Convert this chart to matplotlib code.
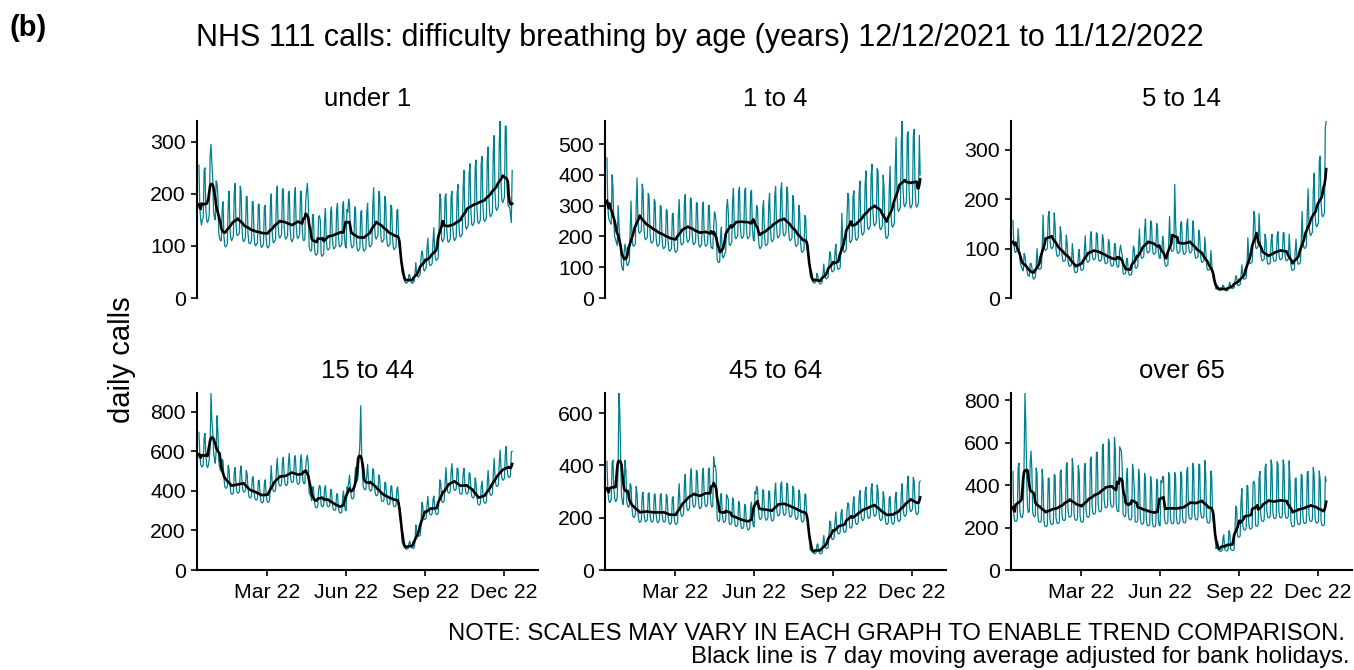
import pandas as pd
import matplotlib.pyplot as plt
import matplotlib.dates as mdates
from matplotlib.ticker import MultipleLocator

plt.rcParams['font.family'] = ['Liberation Sans', 'DejaVu Sans']

start_date = "2021-12-12"
panel_titles = ["under 1", "1 to 4", "5 to 14", "15 to 44", "45 to 64", "over 65"]
y_steps = [100, 100, 100, 200, 200, 200]
month_ticks = ["2022-03-01", "2022-06-01", "2022-09-01", "2022-12-01"]

# daily calls, one row per week (Sun..Sat), last value = Sun 11/12/2022
under_1 = [
    255, 175, 150, 140, 150, 155, 245,
    250, 170, 150, 145, 150, 160, 270,
    295, 260, 230, 165, 155, 150, 225,
    220, 200, 125, 115, 110, 110, 170,
    185, 120, 100, 98, 100, 105, 178,
    205, 135, 115, 110, 115, 118, 200,
    220, 145, 122, 120, 122, 125, 215,
    205, 135, 112, 108, 112, 115, 195,
    195, 125, 106, 104, 106, 110, 185,
    185, 120, 102, 100, 104, 105, 180,
    180, 120, 100, 97, 100, 103, 175,
    178, 118, 100, 96, 99, 102, 175,
    200, 130, 108, 106, 110, 112, 193,
    215, 140, 118, 115, 118, 122, 208,
    210, 138, 116, 113, 116, 120, 202,
    205, 132, 112, 108, 112, 115, 196,
    212, 140, 118, 114, 118, 122, 205,
    205, 135, 112, 110, 112, 185, 205,
    220, 190, 100, 92, 90, 92, 160,
    160, 102, 85, 82, 84, 86, 155,
    158, 150, 85, 80, 82, 85, 150,
    172, 112, 94, 92, 94, 97, 165,
    175, 115, 97, 94, 97, 99, 170,
    182, 120, 100, 98, 101, 103, 178,
    185, 118, 100, 96, 170, 165, 190,
    180, 118, 100, 96, 99, 102, 175,
    170, 110, 93, 90, 93, 96, 165,
    168, 110, 92, 90, 93, 95, 163,
    182, 120, 100, 98, 101, 104, 177,
    212, 140, 117, 113, 117, 120, 205,
    200, 132, 110, 107, 110, 113, 195,
    185, 120, 102, 99, 101, 104, 178,
    175, 114, 96, 93, 96, 98, 168,
    170, 112, 95, 90, 75, 50, 45,
    45, 32, 30, 28, 30, 32, 45,
    44, 32, 30, 28, 30, 32, 45,
    68, 48, 42, 40, 43, 45, 75,
    90, 85, 55, 52, 55, 58, 95,
    115, 76, 64, 62, 64, 66, 110,
    135, 88, 75, 72, 75, 77, 130,
    200, 190, 112, 108, 112, 115, 195,
    200, 132, 110, 107, 110, 113, 195,
    205, 135, 114, 110, 114, 117, 200,
    218, 142, 120, 117, 120, 123, 210,
    245, 162, 136, 132, 136, 140, 240,
    258, 170, 142, 139, 142, 146, 250,
    265, 174, 146, 143, 146, 150, 258,
    272, 178, 150, 147, 150, 154, 265,
    290, 190, 160, 156, 160, 164, 280,
    312, 204, 172, 168, 172, 176, 300,
    340, 223, 188, 183, 188, 193, 330,
    330, 214, 180, 175, 175, 160, 145,
    245,
]

one_to_four = [
    455, 300, 260, 250, 245, 240, 400,
    360, 245, 200, 190, 180, 170, 300,
    240, 190, 160, 105, 95, 90, 150,
    175, 160, 110, 105, 110, 120, 220,
    315, 205, 172, 168, 172, 176, 300,
    390, 255, 215, 210, 215, 220, 370,
    350, 230, 194, 189, 194, 198, 340,
    330, 217, 182, 178, 182, 187, 320,
    312, 204, 172, 168, 172, 176, 300,
    297, 195, 164, 160, 164, 168, 287,
    283, 185, 156, 152, 156, 160, 273,
    275, 180, 152, 148, 152, 156, 268,
    320, 209, 176, 172, 176, 180, 308,
    336, 220, 186, 181, 186, 190, 325,
    322, 211, 178, 173, 178, 182, 310,
    307, 201, 170, 165, 170, 174, 297,
    312, 204, 172, 168, 172, 176, 301,
    300, 198, 166, 162, 160, 230, 280,
    270, 240, 125, 118, 115, 118, 200,
    230, 140, 130, 135, 145, 150, 290,
    320, 280, 175, 170, 175, 180, 315,
    357, 234, 197, 192, 197, 202, 345,
    360, 236, 198, 193, 198, 203, 347,
    357, 234, 197, 192, 197, 202, 344,
    350, 228, 192, 186, 250, 240, 300,
    290, 195, 165, 160, 165, 170, 290,
    316, 207, 174, 170, 174, 179, 305,
    340, 223, 188, 183, 188, 193, 329,
    362, 238, 200, 195, 200, 205, 350,
    374, 245, 206, 201, 206, 212, 361,
    345, 226, 190, 186, 190, 195, 333,
    312, 204, 172, 168, 172, 176, 301,
    275, 180, 152, 148, 152, 156, 268,
    260, 175, 150, 145, 120, 75, 65,
    75, 55, 50, 48, 50, 55, 80,
    72, 52, 48, 45, 48, 52, 75,
    110, 75, 65, 62, 65, 68, 115,
    150, 140, 88, 85, 88, 90, 150,
    175, 114, 96, 93, 96, 98, 168,
    275, 180, 152, 148, 152, 156, 267,
    340, 320, 185, 180, 185, 190, 330,
    348, 228, 192, 187, 192, 197, 336,
    380, 249, 210, 204, 210, 215, 367,
    413, 271, 228, 222, 228, 234, 399,
    435, 285, 240, 234, 240, 246, 420,
    413, 271, 228, 222, 228, 234, 399,
    360, 236, 198, 193, 198, 203, 347,
    428, 280, 236, 230, 236, 242, 413,
    522, 342, 288, 281, 288, 295, 504,
    575, 361, 304, 296, 304, 312, 530,
    540, 355, 299, 292, 299, 307, 524,
    548, 359, 302, 295, 302, 310, 529,
    400,
]

five_to_14 = [
    157, 110, 95, 92, 95, 96, 140,
    115, 80, 68, 62, 58, 55, 90,
    85, 70, 60, 48, 45, 44, 70,
    70, 62, 42, 38, 40, 42, 66,
    100, 68, 59, 58, 59, 61, 99,
    168, 114, 98, 96, 98, 101, 165,
    175, 119, 102, 100, 102, 105, 172,
    147, 100, 86, 84, 86, 88, 144,
    129, 87, 75, 74, 75, 77, 127,
    112, 76, 66, 64, 66, 67, 110,
    90, 61, 52, 51, 52, 54, 88,
    98, 67, 57, 56, 57, 59, 96,
    126, 86, 74, 72, 74, 76, 123,
    134, 91, 79, 77, 79, 81, 132,
    130, 88, 76, 74, 76, 78, 128,
    120, 82, 71, 69, 71, 72, 118,
    112, 76, 66, 64, 66, 67, 110,
    109, 74, 64, 62, 64, 95, 107,
    95, 85, 50, 48, 49, 50, 80,
    80, 54, 47, 46, 47, 48, 78,
    105, 100, 62, 60, 62, 64, 105,
    140, 95, 82, 80, 82, 84, 137,
    160, 108, 93, 91, 93, 96, 156,
    154, 105, 90, 88, 90, 92, 151,
    140, 95, 82, 80, 100, 95, 125,
    112, 76, 66, 64, 66, 67, 110,
    165, 112, 96, 94, 96, 99, 230,
    157, 106, 92, 90, 92, 94, 153,
    154, 105, 90, 88, 90, 92, 151,
    160, 108, 93, 91, 93, 96, 156,
    140, 95, 82, 80, 82, 84, 137,
    126, 86, 74, 72, 74, 76, 123,
    98, 67, 57, 56, 57, 59, 96,
    70, 48, 40, 35, 25, 18, 20,
    24, 18, 16, 15, 16, 17, 26,
    23, 17, 15, 14, 15, 16, 25,
    32, 23, 20, 19, 20, 21, 33,
    45, 42, 26, 25, 26, 27, 44,
    67, 46, 39, 38, 39, 40, 66,
    122, 83, 71, 70, 71, 73, 119,
    175, 165, 102, 100, 102, 105, 171,
    132, 89, 77, 75, 77, 79, 129,
    119, 81, 70, 68, 70, 71, 116,
    129, 87, 75, 74, 75, 77, 126,
    134, 91, 79, 77, 79, 81, 132,
    132, 89, 77, 75, 77, 79, 129,
    98, 67, 57, 56, 57, 59, 96,
    119, 81, 70, 68, 70, 71, 116,
    175, 119, 102, 100, 102, 105, 171,
    221, 150, 130, 126, 130, 133, 216,
    252, 171, 148, 144, 148, 151, 276,
    287, 195, 168, 164, 168, 172, 345,
    358,
]

fifteen_to_44 = [
    696, 592, 534, 522, 522, 534, 667,
    690, 587, 529, 518, 530, 560, 620,
    895, 760, 700, 600, 560, 540, 600,
    780, 700, 560, 520, 505, 500, 560,
    552, 469, 423, 414, 414, 423, 529,
    510, 434, 391, 383, 383, 391, 489,
    518, 441, 397, 389, 389, 397, 497,
    526, 447, 403, 394, 394, 403, 504,
    486, 413, 373, 365, 365, 373, 466,
    472, 401, 362, 354, 354, 362, 452,
    454, 386, 348, 340, 340, 348, 435,
    456, 388, 350, 342, 342, 350, 437,
    528, 449, 405, 396, 396, 405, 506,
    566, 481, 434, 425, 425, 434, 543,
    570, 485, 437, 428, 428, 437, 546,
    590, 502, 453, 443, 443, 453, 566,
    578, 492, 443, 434, 434, 443, 554,
    582, 495, 446, 437, 437, 520, 560,
    580, 540, 390, 382, 370, 350, 420,
    420, 357, 322, 315, 315, 322, 403,
    428, 420, 328, 321, 321, 328, 411,
    426, 362, 327, 320, 320, 327, 408,
    402, 342, 308, 302, 302, 308, 385,
    384, 326, 294, 288, 288, 294, 368,
    400, 340, 306, 300, 420, 410, 440,
    480, 408, 368, 360, 360, 368, 460,
    520, 470, 450, 480, 560, 640, 830,
    600, 480, 420, 410, 405, 410, 480,
    534, 454, 409, 400, 400, 409, 512,
    502, 426, 385, 376, 376, 385, 481,
    462, 393, 354, 347, 347, 354, 443,
    442, 375, 339, 331, 331, 339, 423,
    426, 362, 327, 320, 320, 327, 408,
    420, 360, 320, 300, 220, 140, 130,
    130, 120, 108, 106, 106, 108, 135,
    146, 124, 112, 110, 110, 112, 140,
    228, 194, 175, 171, 171, 175, 218,
    342, 330, 262, 256, 256, 262, 328,
    372, 316, 285, 279, 279, 285, 357,
    374, 318, 287, 281, 281, 287, 359,
    456, 440, 350, 342, 342, 350, 437,
    518, 441, 397, 389, 389, 397, 497,
    538, 457, 412, 403, 403, 412, 515,
    510, 434, 391, 383, 383, 391, 489,
    514, 437, 394, 385, 385, 394, 492,
    486, 413, 373, 365, 365, 373, 466,
    438, 372, 336, 329, 329, 336, 420,
    450, 383, 345, 338, 338, 345, 431,
    504, 428, 386, 378, 378, 386, 483,
    564, 479, 432, 423, 423, 432, 541,
    607, 516, 466, 455, 455, 466, 582,
    624, 530, 478, 468, 468, 478, 598,
    600,
]

forty5_to_64 = [
    416, 309, 268, 258, 261, 271, 410,
    420, 315, 275, 262, 265, 280, 400,
    677, 600, 420, 280, 260, 250, 320,
    420, 380, 260, 245, 240, 245, 330,
    323, 240, 208, 201, 203, 211, 319,
    293, 218, 189, 182, 184, 191, 288,
    297, 220, 191, 185, 187, 194, 293,
    295, 216, 190, 183, 185, 190, 290,
    290, 220, 188, 181, 183, 192, 287,
    292, 218, 189, 183, 184, 191, 289,
    281, 209, 181, 175, 177, 183, 277,
    280, 208, 180, 174, 176, 182, 276,
    330, 245, 213, 205, 208, 215, 325,
    366, 271, 235, 227, 230, 238, 360,
    387, 287, 249, 240, 243, 252, 381,
    376, 279, 242, 234, 237, 245, 371,
    389, 289, 251, 242, 245, 254, 384,
    390, 290, 250, 240, 245, 433, 395,
    400, 370, 200, 190, 185, 190, 285,
    293, 218, 189, 182, 184, 191, 288,
    280, 270, 180, 174, 176, 182, 276,
    267, 198, 172, 166, 168, 174, 263,
    255, 189, 164, 158, 160, 166, 251,
    247, 183, 159, 153, 155, 161, 243,
    260, 195, 170, 165, 300, 290, 320,
    310, 230, 200, 193, 195, 202, 306,
    306, 227, 197, 190, 193, 200, 302,
    301, 223, 194, 187, 189, 196, 296,
    333, 247, 214, 207, 209, 217, 328,
    337, 250, 217, 209, 212, 219, 332,
    325, 241, 209, 202, 204, 212, 320,
    310, 230, 200, 193, 195, 202, 306,
    294, 219, 190, 183, 185, 192, 290,
    290, 215, 185, 175, 130, 80, 75,
    90, 72, 65, 62, 63, 66, 95,
    100, 75, 65, 62, 63, 65, 99,
    132, 98, 85, 82, 83, 86, 130,
    187, 180, 121, 116, 118, 122, 185,
    222, 165, 143, 138, 139, 144, 218,
    231, 172, 149, 144, 145, 151, 228,
    257, 250, 166, 160, 162, 168, 254,
    280, 208, 180, 174, 176, 182, 276,
    304, 225, 196, 189, 191, 198, 299,
    317, 235, 204, 197, 199, 206, 312,
    330, 245, 213, 205, 208, 215, 325,
    304, 225, 196, 189, 191, 198, 299,
    280, 208, 180, 174, 176, 182, 276,
    281, 209, 181, 175, 177, 183, 277,
    297, 221, 191, 185, 187, 194, 293,
    330, 245, 213, 205, 208, 215, 325,
    359, 267, 231, 223, 226, 234, 354,
    341, 253, 219, 212, 214, 222, 335,
    340,
]

over_65 = [
    464, 259, 232, 229, 229, 238, 482,
    502, 281, 251, 248, 248, 270, 520,
    833, 680, 430, 290, 270, 275, 500,
    560, 470, 270, 255, 250, 255, 480,
    456, 255, 228, 225, 225, 234, 474,
    413, 231, 207, 204, 204, 212, 430,
    433, 242, 217, 214, 214, 222, 450,
    444, 248, 222, 219, 219, 228, 461,
    471, 264, 236, 233, 233, 242, 490,
    505, 282, 252, 249, 249, 259, 525,
    474, 265, 237, 234, 234, 243, 493,
    456, 255, 228, 225, 225, 234, 474,
    502, 281, 251, 248, 248, 257, 521,
    532, 298, 266, 263, 263, 273, 553,
    555, 310, 277, 274, 274, 285, 577,
    593, 332, 296, 293, 293, 304, 616,
    600, 336, 300, 296, 296, 308, 624,
    560, 310, 280, 275, 275, 580, 570,
    560, 480, 265, 255, 250, 255, 440,
    479, 268, 239, 236, 236, 246, 498,
    456, 380, 228, 225, 225, 234, 474,
    438, 245, 219, 216, 216, 225, 455,
    423, 236, 211, 209, 209, 217, 439,
    410, 230, 205, 203, 203, 211, 427,
    420, 235, 210, 208, 420, 410, 440,
    440, 246, 220, 218, 218, 226, 458,
    442, 247, 221, 218, 218, 227, 459,
    438, 250, 220, 217, 219, 225, 462,
    450, 252, 225, 222, 222, 231, 468,
    483, 270, 242, 239, 239, 248, 502,
    479, 268, 239, 236, 236, 246, 498,
    496, 277, 248, 245, 245, 254, 515,
    448, 251, 224, 221, 221, 230, 466,
    440, 250, 220, 200, 150, 100, 110,
    130, 95, 90, 88, 88, 92, 150,
    165, 100, 92, 90, 90, 95, 185,
    175, 100, 95, 92, 92, 96, 190,
    300, 290, 160, 155, 155, 160, 320,
    383, 214, 192, 189, 189, 197, 398,
    392, 219, 196, 194, 194, 201, 408,
    418, 400, 209, 206, 206, 215, 435,
    464, 259, 232, 229, 229, 238, 482,
    499, 279, 249, 246, 246, 256, 518,
    489, 274, 245, 242, 242, 251, 509,
    499, 279, 249, 246, 246, 256, 518,
    494, 276, 247, 244, 244, 254, 514,
    413, 231, 207, 204, 204, 212, 430,
    433, 242, 217, 214, 214, 222, 450,
    444, 248, 222, 219, 219, 228, 461,
    464, 259, 232, 229, 229, 238, 482,
    448, 251, 224, 221, 221, 230, 466,
    423, 236, 211, 209, 209, 217, 439,
    420,
]

series = [under_1, one_to_four, five_to_14, fifteen_to_44, forty5_to_64, over_65]

teal = "#00808f"
fig = plt.figure(figsize=(13.54, 6.70), dpi=100)

lefts = [197 / 1354, 605 / 1354, 1011 / 1354]
bottoms = [1 - 298 / 670, 1 - 570 / 670]
w = 341 / 1354
h = 177 / 670

for i, (title, vals) in enumerate(zip(panel_titles, series)):
    row, col = divmod(i, 3)
    ax = fig.add_axes([lefts[col], bottoms[row], w, h])
    dates = pd.date_range(start_date, periods=len(vals), freq="D")
    s = pd.Series(vals, index=dates)
    ma = s.rolling(7, center=True, min_periods=4).mean()
    ax.plot(dates, s.values, color=teal, lw=0.9)
    ax.plot(dates, ma.values, color="black", lw=1.9)

    ax.set_xlim(pd.Timestamp("2021-12-09 18:00"), pd.Timestamp("2023-01-10"))
    ax.set_ylim(0, max(vals))
    ax.yaxis.set_major_locator(MultipleLocator(y_steps[i]))
    ax.set_xticks(pd.to_datetime(month_ticks))
    ax.xaxis.set_major_formatter(mdates.DateFormatter("%b %y"))

    for side in ["top", "right"]:
        ax.spines[side].set_visible(False)
    ax.spines["left"].set_linewidth(1.5)
    ax.spines["bottom"].set_linewidth(1.5)
    ax.tick_params(axis="both", length=4, width=1.2, labelsize=15.3, colors="black")
    ax.tick_params(axis="y", pad=4)
    ax.tick_params(axis="x", pad=5)
    if row == 0:
        ax.spines["bottom"].set_visible(False)
        ax.tick_params(axis="x", bottom=False, labelbottom=False)
    ax.text(0.5, 1.125, title, transform=ax.transAxes, ha="center", va="center",
            fontsize=18.5)

fig.text(0.517, 0.943, "NHS 111 calls: difficulty breathing by age (years) 12/12/2021 to 11/12/2022",
         ha="center", va="center", fontsize=22)
fig.text(0.007, 0.958, "(b)", ha="left", va="center", fontsize=21, fontweight="bold")
fig.text(0.090, 0.463, "daily calls", ha="center", va="center", rotation=90, fontsize=21)
fig.text(0.993, 0.054, "NOTE: SCALES MAY VARY IN EACH GRAPH TO ENABLE TREND COMPARISON.",
         ha="right", va="center", fontsize=17.2)
fig.text(0.997, 0.019, "Black line is 7 day moving average adjusted for bank holidays.",
         ha="right", va="center", fontsize=17.2)

fig.savefig("out.png", dpi=100)
